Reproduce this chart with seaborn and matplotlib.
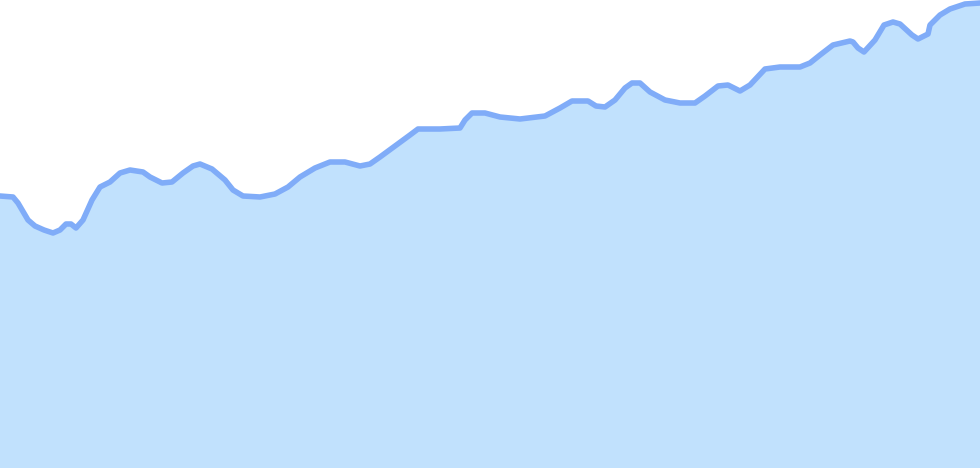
import numpy as np
import matplotlib
matplotlib.use("Agg")
import matplotlib.pyplot as plt
import seaborn as sns

# positions along the series and the level at each one
steps = [0, 13, 18, 28, 35, 44, 53, 60, 66, 71, 76, 83, 92, 100, 110, 120, 130,
         143, 150, 162, 172, 183, 193, 200, 212, 225, 233, 243, 260, 275, 288,
         300, 315, 330, 345, 360, 370, 380, 395, 410, 418, 440, 460, 465, 472,
         485, 500, 520, 545, 560, 572, 588, 596, 605, 615, 625, 632, 640, 650,
         665, 680, 695, 705, 718, 728, 740, 750, 765, 780, 800, 810, 820, 833,
         850, 853, 858, 864, 875, 884, 893, 900, 912, 918, 928, 930, 940, 950,
         965, 980]
level = [272, 271, 265, 248, 242, 238, 235, 238, 244, 244, 240, 248, 268, 281,
         286, 295, 298, 296, 291, 285, 286, 295, 302, 304, 299, 288, 278, 272,
         271, 274, 281, 291, 300, 306, 306, 302, 304, 311, 322, 333, 339, 339,
         340, 348, 355, 355, 351, 349, 352, 360, 367, 367, 362, 361, 368, 380,
         385, 385, 376, 368, 365, 365, 372, 382, 383, 377, 383, 399, 401, 401,
         405, 413, 423, 427, 426, 420, 416, 428, 443, 446, 444, 433, 429, 434,
         443, 453, 459, 464, 465]

line_color = "#80acf8"
fill_color = "#c1e1fd"

sns.set_style("white")
fig = plt.figure(figsize=(9.8, 4.68), dpi=100)
ax = fig.add_axes([0, 0, 1, 1])

ax.fill_between(steps, level, 0, color=fill_color, linewidth=0)
sns.lineplot(x=steps, y=level, ax=ax, color=line_color, linewidth=4,
             solid_joinstyle="round", solid_capstyle="round")

ax.set_xlim(0, 980)
ax.set_ylim(0, 468)
ax.set_axis_off()

fig.savefig("out.png", dpi=100)
